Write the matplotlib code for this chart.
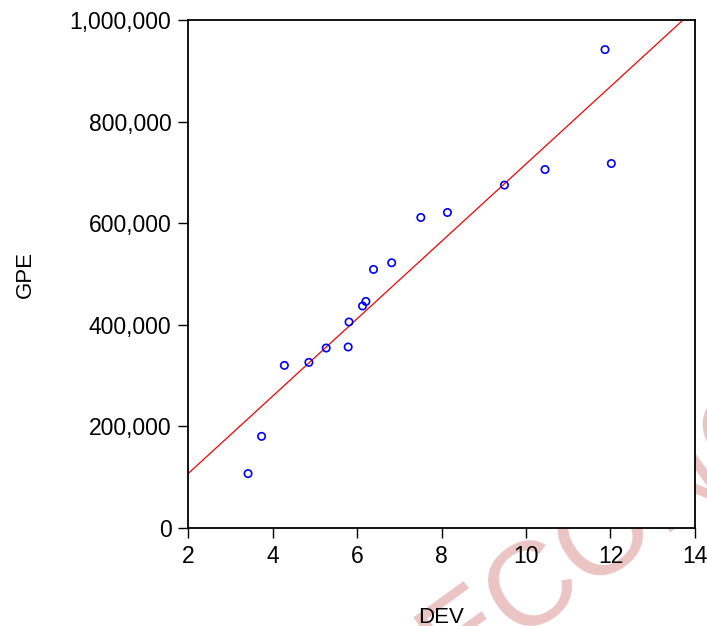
import numpy as np
import matplotlib.pyplot as plt
from matplotlib.ticker import FuncFormatter

plt.rcParams['font.family'] = ['Liberation Sans', 'DejaVu Sans']

# scatter data
dev = [3.42, 3.74, 4.28, 4.86, 5.27, 5.79, 5.81, 6.13, 6.21, 6.39,
       6.82, 7.51, 8.14, 9.49, 10.45, 11.87, 12.02]
gpe = [107000, 180400, 320100, 326000, 354300, 356300, 405500, 437000, 446000, 509000,
       522100, 611300, 621100, 675000, 705700, 941800, 717500]

xticks = [2, 4, 6, 8, 10, 12, 14]
yticks = [0, 200000, 400000, 600000, 800000, 1000000]

fig = plt.figure(figsize=(7.07, 6.26), dpi=100)
ax = fig.add_axes([0.266, 0.1566, 0.717, 0.8114])
ax.set_facecolor("white")

# watermark sits behind the axes
fig.text(0.66, -0.125, "ECONOMICS", fontsize=86, color="#ebc4c4", rotation=36,
         ha="left", va="bottom", zorder=-1, rotation_mode="anchor")

ax.scatter(dev, gpe, s=28, facecolors="none", edgecolors="blue", linewidths=1.2, zorder=3)

b, a = np.polyfit(dev, gpe, 1)
xs = np.array([2, 14])
ax.plot(xs, a + b * xs, color="red", lw=0.9, zorder=2)

ax.set_xlim(2, 14)
ax.set_ylim(0, 1000000)
ax.set_xticks(xticks)
ax.set_yticks(yticks)
ax.yaxis.set_major_formatter(FuncFormatter(lambda v, p: f"{int(v):,}"))
ax.tick_params(direction="out", length=7, width=1, labelsize=16.5, pad=5)
for s in ax.spines.values():
    s.set_linewidth(1.3)

ax.set_xlabel("DEV", fontsize=16, labelpad=28)
ax.set_ylabel("GPE", fontsize=16, labelpad=24)

fig.savefig("out.png", dpi=100)
